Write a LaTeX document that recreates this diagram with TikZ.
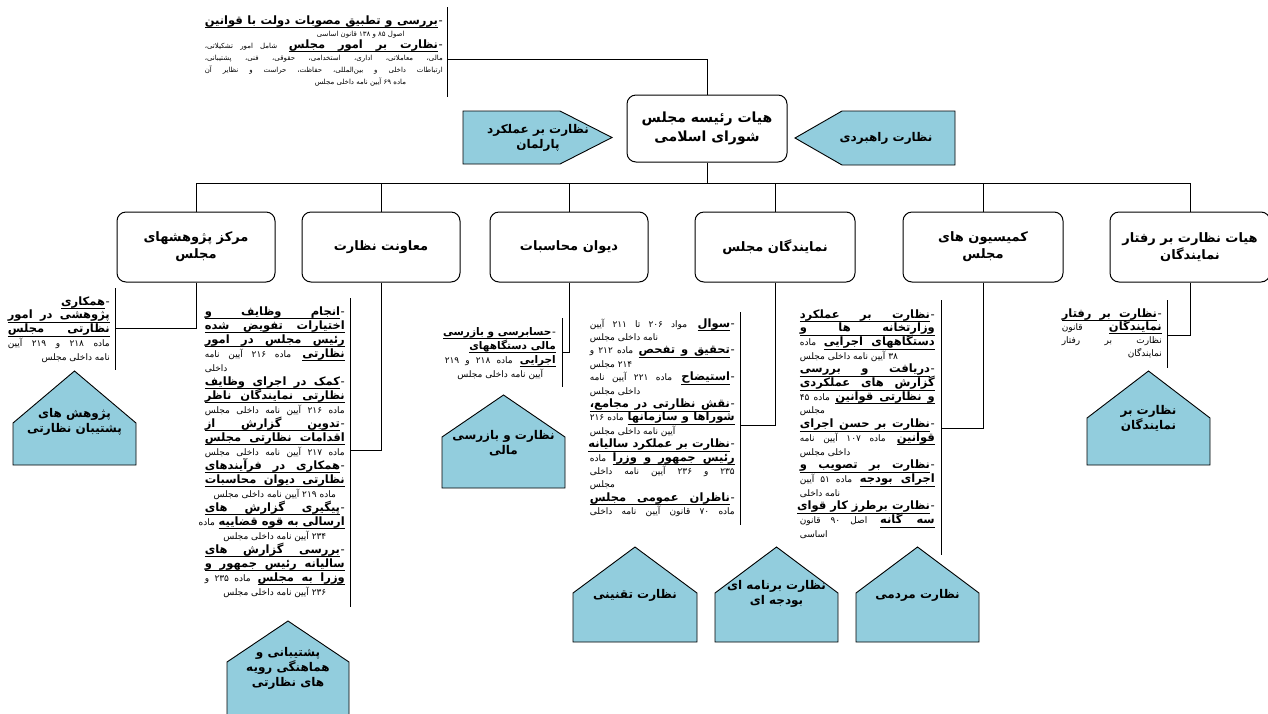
\documentclass[tikz,border=0pt]{standalone}
\usepackage{fontspec}
\TeXXeTstate=1
\newfontfamily\fa[Script=Arabic]{DejaVu Sans}
\definecolor{hblue}{RGB}{146,205,221}
\newcommand\xR[1]{\beginR #1\endR}
\def\xword#1{\setbox0=\hbox{#1}\dp0=0pt\vtop{\box0\kern3.1pt\hrule height0.8pt}}
\def\xsp{\leaders\vrule height-3.1pt depth3.9pt\hskip\fontdimen2\font plus\fontdimen3\font minus\fontdimen4\font}
\def\xulA#1 #2\xnil{\xword{#1}\if\relax\detokenize{#2}\relax\else\xsp\xulA#2\xnil\fi}
\newcommand\xfb[1]{{\bfseries\xulA#1 \xnil}}
\newcommand\xfs[1]{{\fontsize{9pt}{10pt}\selectfont #1}}
\newcommand\xft[1]{{\fontsize{7pt}{8pt}\selectfont #1}}
\newcommand\xd{-\kern0.6pt}
\newcommand\xj[2]{\hbox to #1pt{\hskip0pt minus1fil\beginR #2\endR}}
\newcommand\xr[2]{\hbox to #1pt{\hskip0pt plus1fil minus1fil\beginR #2\endR}}
\newcommand\xl[2]{\hbox to #1pt{\beginR #2\endR\hfill}}
\newcommand\xc[2]{\hbox to #1pt{\hskip0pt plus1fil minus1fil\beginR #2\endR\hskip0pt plus1fil minus1fil}}
\newcommand\xp[3]{\hbox to #1pt{\hskip #2pt\beginR #3\endR\hfill}}
\newcommand\xcol[2]{\vtop{\baselineskip=#1pt\lineskiplimit=-100pt\lineskip=0pt #2}}
\newcommand\xhouse[8]{\draw[house] (#1,#5) -- (#1,#4) -- ({(#1+#2)/2},#3) -- (#2,#4) -- (#2,#5) -- cycle;
  \node[htext] (#7) at ({(#1+#2)/2},#6) {#8};}
\begin{document}
\begin{tikzpicture}[x=1pt,y=-1pt,
  box/.style={draw, rounded corners=9pt, line width=1pt, fill=white, minimum width=158, minimum height=70, align=center, inner sep=2pt, font=\fa\bfseries\fontsize{13}{17}\selectfont},
  house/.style={draw, fill=hblue, line width=0.9pt},
  htext/.style={align=center, inner sep=1pt, font=\fa\bfseries\fontsize{12}{15}\selectfont},
  col/.style={inner sep=0pt, anchor=base east, font=\fa\fontsize{11.5}{13}\selectfont},
  ln/.style={line width=1pt}]
\fill[white] (0,0) rectangle (1268,713);
\useasboundingbox (0,0) rectangle (1268,713);

% top box and side arrows
\node[box, minimum width=160, minimum height=67, font=\fa\bfseries\fontsize{14}{19}\selectfont] (top) at (707,128.5) {\xR{هیات رئیسه مجلس}\\\xR{شورای اسلامی}};
\draw[house] (463,111) -- (560,111) -- (612,137.5) -- (560,164) -- (463,164) -- cycle;
\node[htext] (pl) at (538,137.5) {\xR{نظارت بر عملکرد}\\\xR{پارلمان}};
\draw[house] (795,138) -- (842,111) -- (955,111) -- (955,165) -- (842,165) -- cycle;
\node[htext] (pr) at (886,138) {\xR{نظارت راهبردی}};

% second row boxes
\node[box] (b1) at (196,247) {\xR{مرکز پژوهشهای}\\\xR{مجلس}};
\node[box] (b2) at (381,247) {\xR{معاونت نظارت}};
\node[box] (b3) at (569,247) {\xR{دیوان محاسبات}};
\node[box, minimum width=160] (b4) at (775,247) {\xR{نمایندگان مجلس}};
\node[box, minimum width=160] (b5) at (983,247) {\xR{کمیسیون های}\\\xR{مجلس}};
\node[box, minimum width=160] (b6) at (1190,247) {\xR{هیات نظارت بر رفتار}\\\xR{نمایندگان}};

% bus
\coordinate (busL) at (196,183);
\coordinate (busR) at (1190,183);
\draw[ln] (top.south) -- (top.south |- busL);
\draw[ln] (busL) -- (busR);
\foreach \b in {b1,b2,b3,b4,b5,b6} \draw[ln] (\b.north) -- (\b.north |- busL);

% top text block
\coordinate (tb) at (447,59);
\draw[ln] (447,7) -- (447,97);
\draw[ln] (top.north) |- (tb);
\node[col] (t0) at (443,24) {\xcol{12}{
\xj{238}{\xd\xfb{بررسی و تطبیق مصوبات دولت با قوانین}}
\xp{238}{112}{\xft{اصول ۸۵ و ۱۳۸ قانون اساسی}}
\xj{238}{\xd\xfb{نظارت بر امور مجلس} \xft{شامل امور تشکیلاتی،}}
\xj{238}{\xft{مالی، معاملاتی، اداری، استخدامی، حقوقی، فنی، پشتیبانی،}}
\xj{238}{\xft{ارتباطات داخلی و بین‌المللی، حفاظت، حراست و نظایر آن}}
\xp{238}{110}{\xft{ماده ۶۹ آیین نامه داخلی مجلس}}
}};

% column 1
\coordinate (c1) at (115,328);
\draw[ln] (115,288) -- (115,370);
\draw[ln] (b1.south) |- (c1);
\node[col] (t1) at (110,305) {\xcol{13.75}{
\xr{102}{\xd\xfb{همکاری}}
\xj{102}{\xfb{پژوهشی در امور}}
\xj{102}{\xfb{نظارتی مجلس}}
\xj{102}{\xfs{ماده ۲۱۸ و ۲۱۹ آیین}}
\xr{102}{\xfs{نامه داخلی مجلس}}
}};

% column 2
\coordinate (c2) at (350,450);
\draw[ln] (350,298) -- (350,607);
\draw[ln] (b2.south) |- (c2);
\node[col] (t2) at (345,315) {\xcol{14}{
\xj{140}{\xd\xfb{انجام وظایف و}}
\xj{140}{\xfb{اختیارات تفویض شده}}
\xj{140}{\xfb{رئیس مجلس در امور}}
\xj{140}{\xfb{نظارتی} \xfs{ماده ۲۱۶ آیین نامه}}
\xl{140}{\xfs{داخلی}}
\xj{140}{\xd\xfb{کمک در اجرای وظایف}}
\xj{140}{\xfb{نظارتی نمایندگان ناظر}}
\xj{140}{\xfs{ماده ۲۱۶ آیین نامه داخلی مجلس}}
\xj{140}{\xd\xfb{تدوین گزارش از}}
\xj{140}{\xfb{اقدامات نظارتی مجلس}}
\xj{140}{\xfs{ماده ۲۱۷ آیین نامه داخلی مجلس}}
\xj{140}{\xd\xfb{همکاری در فرآیندهای}}
\xj{140}{\xfb{نظارتی دیوان محاسبات}}
\xc{140}{\xfs{ماده ۲۱۹ آیین نامه داخلی مجلس}}
\xj{140}{\xd\xfb{پیگیری گزارش های}}
\xj{140}{\xfb{ارسالی به قوه قضاییه} \xfs{ماده}}
\xc{140}{\xfs{۲۳۴ آیین نامه داخلی مجلس}}
\xj{140}{\xd\xfb{بررسی گزارش های}}
\xj{140}{\xfb{سالیانه رئیس جمهور و}}
\xj{140}{\xfb{وزرا به مجلس} \xfs{ماده ۲۳۵ و}}
\xc{140}{\xfs{۲۳۶ آیین نامه داخلی مجلس}}
}};

% column 3
\coordinate (c3) at (562,352);
\draw[ln] (562,318) -- (562,387);
\draw[ln] (b3.south) |- (c3);
\node[col, font=\fa\fontsize{10.5}{12}\selectfont] (t3) at (556,335) {\xcol{14}{
\xj{111}{\xd\xfb{حسابرسی و بازرسی}}
\xr{111}{\xfb{مالی دستگاههای}}
\xj{111}{\xfb{اجرایی} \xfs{ماده ۲۱۸ و ۲۱۹}}
\xc{111}{\xfs{آیین نامه داخلی مجلس}}
}};

% column 4
\coordinate (c4) at (740,425);
\draw[ln] (740,312) -- (740,525);
\draw[ln] (b4.south) |- (c4);
\node[col] (t4) at (735,327) {\xcol{13.4}{
\xj{145}{\xd\xfb{سوال} \xfs{مواد ۲۰۶ تا ۲۱۱ آیین}}
\xl{145}{\xfs{نامه داخلی مجلس}}
\xj{145}{\xd\xfb{تحقیق و تفحص} \xfs{ماده ۲۱۲ و}}
\xl{145}{\xfs{۲۱۴ مجلس}}
\xj{145}{\xd\xfb{استیضاح} \xfs{ماده ۲۲۱ آیین نامه}}
\xl{145}{\xfs{داخلی مجلس}}
\xj{145}{\xd\xfb{نقش نظارتی در مجامع،}}
\xj{145}{\xfb{شوراها و سازمانها} \xfs{ماده ۲۱۶}}
\xl{145}{\xfs{آیین نامه داخلی مجلس}}
\xj{145}{\xd\xfb{نظارت بر عملکرد سالیانه}}
\xj{145}{\xfb{رئیس جمهور و وزرا} \xfs{ماده}}
\xj{145}{\xfs{۲۳۵ و ۲۳۶ آیین نامه داخلی}}
\xl{145}{\xfs{مجلس}}
\xj{145}{\xd\xfb{ناظران عمومی مجلس}}
\xj{145}{\xfs{ماده ۷۰ قانون آیین نامه داخلی}}
}};

% column 5
\coordinate (c5) at (941,428);
\draw[ln] (941,300) -- (941,555);
\draw[ln] (b5.south) |- (c5);
\node[col] (t5) at (935,318) {\xcol{13.7}{
\xj{135}{\xd\xfb{نظارت بر عملکرد}}
\xj{135}{\xfb{وزارتخانه ها و}}
\xj{135}{\xfb{دستگاههای اجرایی} \xfs{ماده}}
\xl{135}{\xfs{۳۸ آیین نامه داخلی مجلس}}
\xj{135}{\xd\xfb{دریافت و بررسی}}
\xj{135}{\xfb{گزارش های عملکردی}}
\xj{135}{\xfb{و نظارتی قوانین} \xfs{ماده ۴۵}}
\xl{135}{\xfs{مجلس}}
\xj{135}{\xd\xfb{نظارت بر حسن اجرای}}
\xj{135}{\xfb{قوانین} \xfs{ماده ۱۰۷ آیین نامه}}
\xl{135}{\xfs{داخلی مجلس}}
\xj{135}{\xd\xfb{نظارت بر تصویب و}}
\xj{135}{\xfb{اجرای بودجه} \xfs{ماده ۵۱ آیین}}
\xl{135}{\xfs{نامه داخلی}}
\xj{135}{\xd\xfb{نظارت برطرز کار قوای}}
\xj{135}{\xfb{سه گانه} \xfs{اصل ۹۰ قانون}}
\xl{135}{\xfs{اساسی}}
}};

% column 6
\coordinate (c6) at (1167,335);
\draw[ln] (1167,300) -- (1167,368);
\draw[ln] (b6.south) |- (c6);
\node[col] (t6) at (1162,317) {\xcol{13.3}{
\xj{100}{\xd\xfb{نظارت بر رفتار}}
\xj{100}{\xfb{نمایندگان} \xfs{قانون}}
\xj{100}{\xfs{نظارت بر رفتار}}
\xr{100}{\xfs{نمایندگان}}
}};

% houses
\xhouse{13}{136}{371}{423}{465}{422}{h1}{\xR{پژوهش های}\\\xR{پشتیبان نظارتی}}
\xhouse{442}{565}{395}{437}{488}{443}{h2}{\xR{نظارت و بازرسی}\\\xR{مالی}}
\xhouse{1087}{1210}{371}{418}{465}{418}{h3}{\xR{نظارت بر}\\\xR{نمایندگان}}
\xhouse{227}{349}{621}{662}{722}{668}{h4}{\xR{پشتیبانی و}\\\xR{هماهنگی رویه}\\\xR{های نظارتی}}
\xhouse{573}{697}{547}{593}{642}{595}{h5}{\xR{نظارت تقنینی}}
\xhouse{715}{838}{547}{593}{642}{594}{h6}{\xR{نظارت برنامه ای}\\\xR{بودجه ای}}
\xhouse{856}{979}{547}{593}{642}{595}{h7}{\xR{نظارت مردمی}}
\end{tikzpicture}
\end{document}
